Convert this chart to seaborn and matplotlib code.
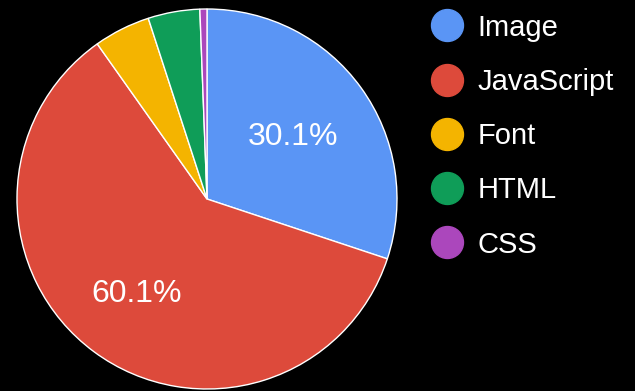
import matplotlib
matplotlib.use("Agg")
import numpy as np
import matplotlib.pyplot as plt
from matplotlib.lines import Line2D
import seaborn as sns

# Share of page weight by resource type
categories = ["Image", "JavaScript", "Font", "HTML", "CSS"]
shares = [30.1, 60.1, 4.8, 4.4, 0.6]
colors = ["#5A95F5", "#DD4A3B", "#F4B400", "#0F9D58", "#AB47BC"]

sns.set_theme(style="white")
plt.rcParams["font.family"] = ["Liberation Sans", "DejaVu Sans"]
palette = sns.color_palette(colors)

W, H = 635, 391
fig = plt.figure(figsize=(W / 100, H / 100), dpi=100, facecolor="black")

# Pie axes: centre (207, 199) px, radius 190 px
cx, cy, r = 207, 199, 190
ax = fig.add_axes([(cx - r) / W, (H - cy - r) / H, 2 * r / W, 2 * r / H])
ax.set_facecolor("black")

wedges, _, autotexts = ax.pie(
    shares,
    colors=palette,
    startangle=90,
    counterclock=False,
    radius=1.0,
    autopct=lambda p: f"{p:.1f}%" if p > 10 else "",
    pctdistance=0.58,
    wedgeprops=dict(edgecolor="white", linewidth=1.0),
    textprops=dict(color="white", fontsize=23),
)

# Larger slices carry their label a little further out
for w, t in zip(wedges, autotexts):
    if not t.get_text():
        continue
    mid = np.deg2rad((w.theta1 + w.theta2) / 2)
    d = 0.56 if w.theta2 - w.theta1 < 180 else 0.625
    t.set_position((d * np.cos(mid), d * np.sin(mid)))

ax.set_xlim(-1.0, 1.0)
ax.set_ylim(-1.0, 1.0)
ax.set_aspect("equal")
ax.axis("off")

handles = [
    Line2D([0], [0], marker="o", linestyle="none", markersize=23,
           markerfacecolor=c, markeredgecolor=c)
    for c in palette
]
leg = fig.legend(
    handles, categories,
    loc="upper left",
    bbox_to_anchor=(418 / W, 1 - 2 / H),
    frameon=False,
    fontsize=21,
    labelcolor="white",
    handlelength=1.2,
    handletextpad=0.45,
    labelspacing=0.9,
    borderaxespad=0,
)

fig.savefig("out.png", dpi=100, facecolor="black")
